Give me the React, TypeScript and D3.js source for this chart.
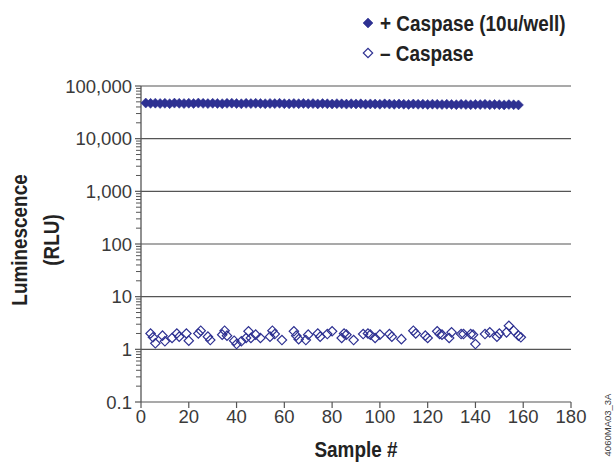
import React from "react";
import * as d3 from "d3";

const W = 615;
const H = 463;

const yTicks = [0.1, 1, 10, 100, 1000, 10000, 100000];
const yTickLabels = ["0.1", "1", "10", "100", "1,000", "10,000", "100,000"];
const xTicks = [0, 20, 40, 60, 80, 100, 120, 140, 160, 180];

const seriesNames = ["+ Caspase (10u/well)", "\u2013 Caspase"];

const plusSamples = d3.range(2, 159, 2);
const plusValues = [
  47500, 46800, 47200, 46500, 47000, 46200, 47300, 46900, 46400, 47100,
  46600, 47400, 46800, 46300, 47000, 46700, 46200, 46900, 47200, 46500,
  46000, 46800, 46400, 47000, 46600, 46100, 46700, 46300, 46900, 46200,
  45800, 46500, 46100, 46700, 45900, 46300, 45700, 46400, 46000, 45500,
  46200, 45800, 45300, 46000, 45600, 45900, 45200, 45700, 45400, 45000,
  45800, 45300, 44900, 45600, 45100, 44700, 45400, 44900, 45200, 44600,
  45100, 44800, 44400, 45000, 44600, 44200, 44900, 44500, 44100, 44700,
  44300, 44800, 44000, 44500, 44200, 43800, 44400, 44000, 43700,
];

const minusSamples = [
  4, 5, 6, 9, 10, 13, 15, 16, 19, 20, 24, 25, 28, 29, 34, 35, 36, 39, 40,
  42, 44, 45, 46, 48, 50, 54, 55, 56, 59, 64, 65, 66, 69, 70, 74, 75, 78, 80, 84,
  85, 86, 89, 93, 95, 96, 98, 100, 104, 105, 109, 114, 115, 119, 120, 124, 125,
  126, 129, 130, 134, 135, 138, 139, 140, 144, 146, 149, 150, 153, 154, 156, 158, 159,
];
const minusValues = [
  2.0, 1.69, 1.3, 1.82, 1.42, 1.64, 2.0, 1.74, 2.0, 1.46, 2.0, 2.26, 1.74, 1.5, 1.9, 2.26, 1.82, 1.46, 1.26,
  1.42, 1.64, 2.2, 1.64, 1.9, 1.64, 1.74, 2.26, 1.95, 1.5, 2.2, 1.82, 1.56, 1.5, 1.9, 2.0, 1.74, 1.95, 2.2, 1.64,
  2.0, 1.9, 1.5, 1.95, 2.0, 1.9, 1.64, 1.9, 1.95, 1.74, 1.56, 2.26, 2.0, 1.82, 1.64, 2.2, 1.95,
  1.9, 1.64, 2.1, 1.95, 1.95, 1.95, 1.9, 1.26, 1.95, 2.1, 1.74, 2.0, 2.1, 2.8, 2.26, 1.82, 1.69,
];

const BLUE = "#2e3192";
const AXIS = "#555";
const TXT = "#3a3a3a";
const NUM_FONT = "'Liberation Sans', Arial, sans-serif";
const BOLD_FONT = "'Liberation Sans', Arial, sans-serif";
const SQ = 0.86; // horizontal squeeze to mimic a condensed bold face

export default function App() {
  const x = d3.scaleLinear().domain([0, 180]).range([141, 571]);
  const y = d3.scaleLog().domain([0.1, 100000]).range([402, 86]);
  const x0 = x(0);
  const x1 = x(180);

  const diamond = d3.symbol().type(d3.symbolSquare).size(44)();
  const diamondFilled = d3.symbol().type(d3.symbolSquare).size(50)();

  const minorTicks: number[] = [];
  for (let e = -1; e < 5; e++) {
    for (let m = 2; m <= 9; m++) minorTicks.push(m * Math.pow(10, e));
  }

  const boldProps = { fontFamily: BOLD_FONT, fontWeight: "bold" as const, fontSize: 22, fill: "#222" };

  return (
    <svg width={W} height={H} style={{ position: "absolute", left: 0, top: 0, background: "#fff" }}>
      <rect x={0} y={0} width={W} height={H} fill="#fff" />
      {/* gridlines */}
      {yTicks.map((t) => (
        <line key={"g" + t} x1={x0} x2={x1} y1={y(t)} y2={y(t)} stroke={AXIS} strokeWidth={1.1} />
      ))}
      {/* y axis */}
      <line x1={x0} x2={x0} y1={y(100000)} y2={y(0.1)} stroke={AXIS} strokeWidth={1.3} />
      {minorTicks.map((t, i) => (
        <line key={"m" + i} x1={x0 - 5} x2={x0} y1={y(t)} y2={y(t)} stroke={AXIS} strokeWidth={1} />
      ))}
      {yTicks.map((t) => (
        <line key={"t" + t} x1={x0 - 6} x2={x0} y1={y(t)} y2={y(t)} stroke={AXIS} strokeWidth={1.2} />
      ))}
      {yTicks.map((t, i) => (
        <text key={"yl" + t} x={x0 - 9} y={y(t)} dy="0.36em" textAnchor="end" fontFamily={NUM_FONT} fontSize={18.5} fill={TXT}>
          {yTickLabels[i]}
        </text>
      ))}
      {/* x axis ticks */}
      {xTicks.map((t) => (
        <line key={"xt" + t} x1={x(t)} x2={x(t)} y1={y(0.1)} y2={y(0.1) + 6} stroke={AXIS} strokeWidth={1.2} />
      ))}
      {xTicks.map((t) => (
        <text key={"xl" + t} x={x(t)} y={423} textAnchor="middle" fontFamily={NUM_FONT} fontSize={18.5} fill={TXT}>
          {t}
        </text>
      ))}
      {/* data */}
      {plusSamples.map((s, i) => (
        <path key={"p" + i} d={diamondFilled} transform={`translate(${x(s)},${y(plusValues[i])}) rotate(45)`} fill={BLUE} stroke={BLUE} strokeWidth={0.5} />
      ))}
      {minusSamples.map((s, i) => (
        <path key={"n" + i} d={diamond} transform={`translate(${x(s)},${y(minusValues[i])}) rotate(45)`} fill="none" stroke={BLUE} strokeWidth={1.2} />
      ))}
      {/* axis titles */}
      <text transform={`translate(356,457) scale(${SQ},1)`} textAnchor="middle" {...boldProps}>
        Sample #
      </text>
      <g transform="translate(27,240) rotate(-90)">
        <text transform={`scale(${SQ},1)`} textAnchor="middle" {...boldProps}>
          Luminescence
        </text>
        <text transform={`translate(0,32) scale(${SQ},1)`} textAnchor="middle" {...boldProps}>
          (RLU)
        </text>
      </g>
      {/* legend */}
      <path d={diamondFilled} transform="translate(368,23) rotate(45)" fill={BLUE} stroke={BLUE} strokeWidth={0.5} />
      <text transform={`translate(380,31) scale(${SQ},1)`} {...boldProps}>
        {seriesNames[0]}
      </text>
      <path d={diamond} transform="translate(368,53) rotate(45)" fill="none" stroke={BLUE} strokeWidth={1.2} />
      <text transform={`translate(380,61) scale(${SQ},1)`} {...boldProps}>
        {seriesNames[1]}
      </text>
      {/* figure id */}
      <text transform="translate(611,425) rotate(-90)" textAnchor="middle" fontFamily={NUM_FONT} fontSize={9.5} fill={TXT}>
        4060MA03_3A
      </text>
    </svg>
  );
}
